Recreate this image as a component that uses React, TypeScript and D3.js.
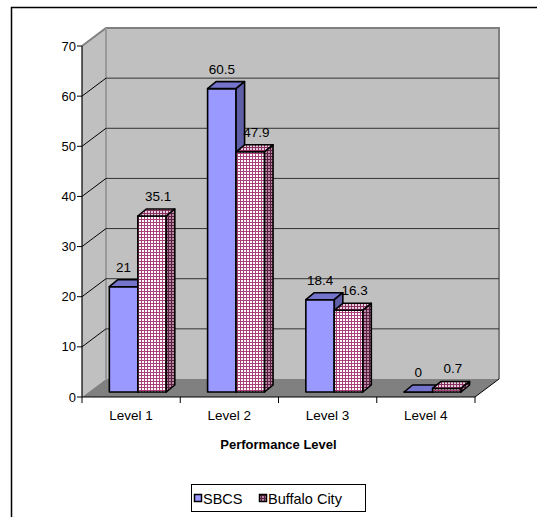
import React from "react";
import * as d3 from "d3";

// Chart data
const categories = ["Level 1", "Level 2", "Level 3", "Level 4"];
const seriesNames = ["SBCS", "Buffalo City"];
const sbcsValues = [21, 60.5, 18.4, 0];
const buffaloValues = [35.1, 47.9, 16.3, 0.7];
const yTicks = [0, 10, 20, 30, 40, 50, 60, 70];
const xTitle = "Performance Level";

const W = 537;
const H = 517;
const FONT = "Arial, 'Liberation Sans', sans-serif";

// plot geometry (front plane of the 3D box)
const X0 = 82;
const X1 = 475;
const Y0 = 397;
const Y1 = 46;
const DX = 24; // wall depth offset
const DY = -18;
// bar placement inside the depth
const FOX = 6.7;
const FOY = -5;
const BDX = 8.5;
const BDY = -7;

const y = d3.scaleLinear().domain([0, 70]).range([Y0, Y1]);
const x = d3.scaleBand<string>().domain(categories).range([X0, X1]).padding(0);
const bw = x.bandwidth();
const barW = bw / 3.45;
const inner = d3
  .scaleBand<string>()
  .domain(seriesNames)
  .range([(bw - 2 * barW) / 2, (bw + 2 * barW) / 2])
  .padding(0);

const pts = (p: [number, number][]) => p.map((q) => q.join(",")).join(" ");

type Fill = { front: string; top: string; side: string };
const fills: Fill[] = [
  { front: "#9999ff", top: "#7474cc", side: "#5f5fa8" },
  { front: "url(#pinkFront)", top: "url(#pinkTop)", side: "url(#pinkSide)" },
];

function Bar({ cat, s, v }: { cat: string; s: number; v: number }) {
  const xl = (x(cat) as number) + (inner(seriesNames[s]) as number) + FOX;
  const xr = xl + barW;
  const yb = Y0 + FOY;
  const yt = y(v) + FOY;
  const f = fills[s];
  const sw = 1.6;
  return (
    <g stroke="#000" strokeWidth={sw} strokeLinejoin="round">
      <polygon points={pts([[xl, yt], [xr, yt], [xr, yb], [xl, yb]])} fill={f.front} />
      <polygon
        points={pts([[xl, yt], [xl + BDX, yt + BDY], [xr + BDX, yt + BDY], [xr, yt]])}
        fill={f.top}
      />
      <polygon
        points={pts([[xr, yt], [xr + BDX, yt + BDY], [xr + BDX, yb + BDY], [xr, yb]])}
        fill={f.side}
      />
    </g>
  );
}

function pattern(id: string, bg: string, line: string) {
  return (
    <pattern id={id} width={3} height={3} patternUnits="userSpaceOnUse">
      <rect width={3} height={3} fill={bg} />
      <rect x={0} y={0} width={1} height={3} fill={line} />
      <rect x={0} y={0} width={3} height={1} fill={line} />
    </pattern>
  );
}

export default function App() {
  const series = [sbcsValues, buffaloValues];
  const gridVals = yTicks.filter((t) => t > 0 && t < 70);
  return (
    <svg
      width={W}
      height={H}
      style={{ position: "absolute", left: 0, top: 0, background: "#fff" }}
      fontFamily={FONT}
    >
      <defs>
        {pattern("pinkFront", "#ffffff", "#a8407a")}
        {pattern("pinkTop", "#e6cfdc", "#8a3060")}
        {pattern("pinkSide", "#b88aa4", "#5a1f40")}
      </defs>

      {/* outer frame */}
      <rect x={11.5} y={7.5} width={700} height={700} fill="#fff" stroke="#000" strokeWidth={1.5} />

      {/* walls and floor */}
      <polygon
        points={pts([[X0, Y1], [X0 + DX, Y1 + DY], [X0 + DX, Y0 + DY], [X0, Y0]])}
        fill="#c0c0c0"
      />
      <polygon
        points={pts([[X0 + DX, Y1 + DY], [X1 + DX, Y1 + DY], [X1 + DX, Y0 + DY], [X0 + DX, Y0 + DY]])}
        fill="#c0c0c0"
      />
      <polygon
        points={pts([[X0, Y0], [X1, Y0], [X1 + DX, Y0 + DY], [X0 + DX, Y0 + DY]])}
        fill="#808080"
      />
      {/* wall edges */}
      <polyline
        points={pts([[X0, Y1], [X0 + DX, Y1 + DY], [X1 + DX, Y1 + DY], [X1 + DX, Y0 + DY]])}
        fill="none"
        stroke="#808080"
        strokeWidth={2}
      />
      <line x1={X0 + DX} y1={Y1 + DY} x2={X0 + DX} y2={Y0 + DY} stroke="#999" strokeWidth={2} />

      {/* gridlines */}
      {gridVals.map((t) => (
        <g key={t}>
          <line x1={X0 + DX} x2={X1 + DX} y1={y(t) + DY} y2={y(t) + DY} stroke="#333" strokeWidth={1} />
          <line x1={X0} x2={X0 + DX} y1={y(t)} y2={y(t) + DY} stroke="#000" strokeWidth={1} />
        </g>
      ))}

      {/* bars */}
      {categories.map((c, i) => (
        <g key={c}>
          {series.map((vals, s) => (
            <Bar key={s} cat={c} s={s} v={vals[i]} />
          ))}
        </g>
      ))}

      {/* value labels */}
      {categories.map((c, i) =>
        series.map((vals, s) => {
          const xc = (x(c) as number) + (inner(seriesNames[s]) as number) + FOX + barW / 2 + (s === 0 ? 0 : 6);
          return (
            <text
              key={c + s}
              x={xc}
              y={y(vals[i]) + FOY + BDY - 8}
              textAnchor="middle"
              fontSize={13.5}
              fill="#000"
            >
              {vals[i]}
            </text>
          );
        })
      )}

      {/* y axis */}
      <line x1={X0} x2={X0} y1={Y1} y2={Y0} stroke="#000" strokeWidth={1.2} />
      {yTicks.map((t) => (
        <g key={t}>
          <line x1={X0 - 5} x2={X0} y1={y(t)} y2={y(t)} stroke="#000" strokeWidth={1} />
          <text x={X0 - 6} y={y(t)} dy="0.35em" textAnchor="end" fontSize={13}>
            {t}
          </text>
        </g>
      ))}

      {/* x axis */}
      <line x1={X0} x2={X1} y1={Y0} y2={Y0} stroke="#000" strokeWidth={1.2} />
      <line x1={X1} x2={X1 + DX} y1={Y0} y2={Y0 + DY} stroke="#000" strokeWidth={1} />
      {[...categories.map((c) => x(c) as number), X1].map((tx, i) => (
        <line key={i} x1={tx} x2={tx} y1={Y0} y2={Y0 + 6} stroke="#000" strokeWidth={1} />
      ))}
      {categories.map((c) => (
        <text key={c} x={(x(c) as number) + bw / 2} y={420} textAnchor="middle" fontSize={13.5}>
          {c}
        </text>
      ))}
      <text x={(X0 + X1) / 2} y={449} textAnchor="middle" fontSize={13} fontWeight="bold">
        {xTitle}
      </text>

      {/* legend */}
      <rect x={191.5} y={484.5} width={174} height={27} fill="#fff" stroke="#000" strokeWidth={1} />
      <rect x={194.5} y={494.5} width={7} height={7} fill="#9999ff" stroke="#000" strokeWidth={1.5} />
      <text x={203} y={503.5} fontSize={14.5}>
        {seriesNames[0]}
      </text>
      <rect x={259.5} y={494.5} width={7} height={7} fill="url(#pinkSide)" stroke="#000" strokeWidth={1.5} />
      <text x={268} y={503.5} fontSize={14.5}>
        {seriesNames[1]}
      </text>
    </svg>
  );
}
